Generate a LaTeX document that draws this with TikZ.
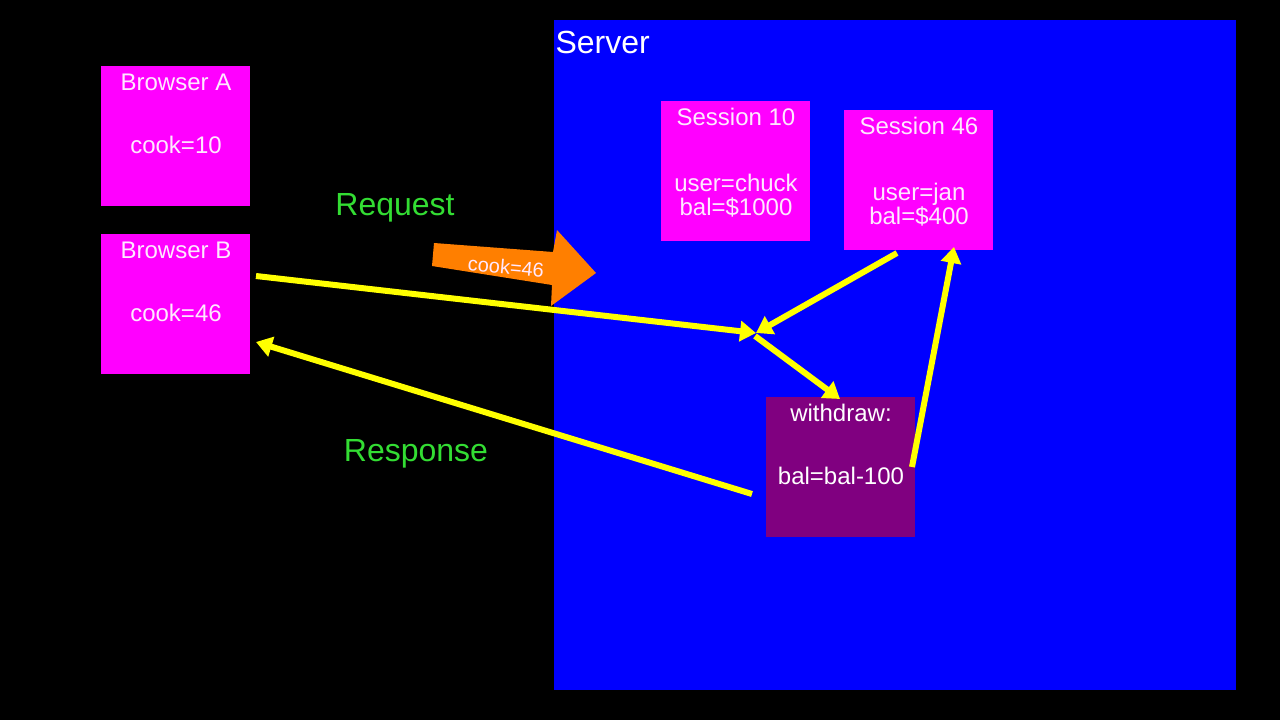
\documentclass[tikz,border=0pt]{standalone}
\usepackage{fontspec}
\setmainfont{Liberation Sans}
\usetikzlibrary{arrows.meta}
\definecolor{mag}{HTML}{FF00FF}
\definecolor{pur}{HTML}{800080}
\definecolor{srv}{HTML}{0000FF}
\definecolor{ylw}{HTML}{FFFF00}
\definecolor{grn}{HTML}{33DD33}
\definecolor{org}{HTML}{FF7F00}
\definecolor{pale}{HTML}{FFE8FF}
\begin{document}
\begin{tikzpicture}[x=1pt,y=-1pt,
  box/.style={draw=none,fill=mag,minimum width=149pt,minimum height=140pt,anchor=north west,inner sep=0},
  t/.style={text=pale,font=\fontsize{24}{28}\selectfont,align=center},
  big/.style={text=grn,font=\fontsize{32}{36}\selectfont},
  yl/.style={draw=ylw,line width=6pt,-{Triangle[length=16pt,width=20pt]}}]
\fill[black] (0,0) rectangle (1280,720);
\node[fill=srv,minimum width=682pt,minimum height=670pt,anchor=north west,inner sep=0] (server) at (554,20) {};
\node[anchor=west,text=white,font=\fontsize{32}{36}\selectfont] (slab) at (552,42) {Server};
\node[box] (ba) at (101,66) {};
\node[t] (bat) at (176,82) {Browser A};
\node[t] (bac) at (176,145) {cook=10};
\node[box] (bb) at (101,234) {};
\node[t] (bbt) at (176,250) {Browser B};
\node[t] (bbc) at (176,313) {cook=46};
\node[box] (s10) at (661,101) {};
\node[t] (s10t) at (736,117) {Session 10};
\node[t] (s10c) at (736,196) {user=chuck\\[-4pt]bal=\$1000};
\node[box] (s46) at (844,110) {};
\node[t] (s46t) at (919,126) {Session 46};
\node[t] (s46c) at (919,205) {user=jan\\[-4pt]bal=\$400};
\node[box,fill=pur] (wd) at (766,397) {};
\node[t,text=white] (wdt) at (841,413) {withdraw:};
\node[t,text=white] (wdc) at (841,476) {bal=bal-100};
\node[big] (req) at (395,208) {Request};
\node[big] (resp) at (416,454) {Response};
\fill[org] (434,243) -- (553,252) -- (557,230) -- (596,273) -- (551,306) -- (552,285) -- (432,266) -- cycle;
\node[t,rotate=-5,font=\fontsize{20}{24}\selectfont] (ck) at (506,267) {cook=46};
\coordinate (y1) at (256,276);
\coordinate (m) at (756,333);
\coordinate (y2) at (897,253);
\coordinate (m2) at (755,336);
\coordinate (w1) at (840,399);
\coordinate (r1) at (752,494);
\coordinate (r2) at (256,342);
\coordinate (u1) at (912,467);
\coordinate (u2) at (954,247);
\draw[yl] (y1) -- (m);
\draw[yl] (y2) -- (m);
\draw[yl] (m2) -- (w1);
\draw[yl] (r1) -- (r2);
\draw[yl] (u1) -- (u2);
\end{tikzpicture}
\end{document}
